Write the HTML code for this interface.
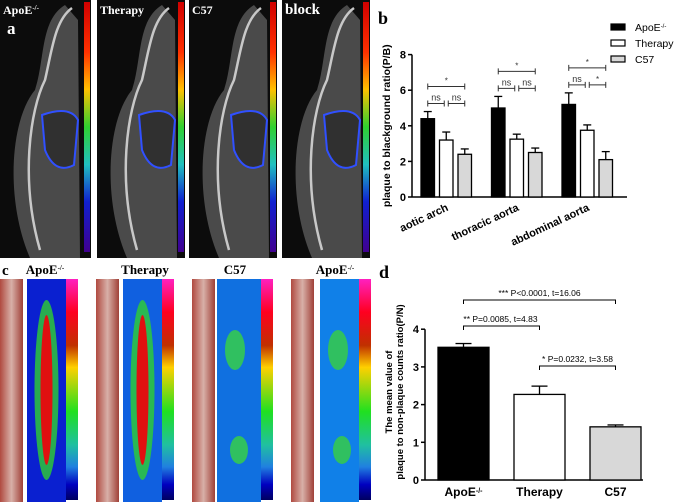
<!DOCTYPE html>
<html><head><meta charset="utf-8"><style>
body{margin:0;background:#fff;width:675px;height:502px;overflow:hidden;font-family:"Liberation Sans",Arial,sans-serif}
svg{display:block}
</style></head><body>
<svg id="fig" width="675" height="502" viewBox="0 0 675 502">
<defs>
<linearGradient id="cbar" x1="0" y1="0" x2="0" y2="1">
<stop offset="0" stop-color="#ff20c0"/><stop offset="0.15" stop-color="#ff0020"/><stop offset="0.3" stop-color="#c03000"/><stop offset="0.4" stop-color="#ffd000"/><stop offset="0.6" stop-color="#20e020"/><stop offset="0.75" stop-color="#20c0a0"/><stop offset="0.85" stop-color="#2080e0"/><stop offset="0.93" stop-color="#0000c0"/><stop offset="1" stop-color="#000060"/>
</linearGradient>
<linearGradient id="ctbar" x1="0" y1="0" x2="0" y2="1">
<stop offset="0" stop-color="#d00000"/><stop offset="0.2" stop-color="#ff3000"/><stop offset="0.35" stop-color="#ffc000"/><stop offset="0.5" stop-color="#30d030"/><stop offset="0.65" stop-color="#20c0c0"/><stop offset="0.8" stop-color="#1020d0"/><stop offset="1" stop-color="#400090"/>
</linearGradient>
<linearGradient id="tissue" x1="0" y1="0" x2="1" y2="0">
<stop offset="0" stop-color="#b04a40"/><stop offset="0.5" stop-color="#d8b0a8"/><stop offset="1" stop-color="#a04038"/>
</linearGradient>
</defs>
<g id="panelA"></g>
<g id="panelC"></g>
<g id="chartB"></g>
<g id="chartD"></g>
</svg>
<script>
// ---- Chart b data ----
const bCategories = ["aotic arch","thoracic aorta","abdominal aorta"];
const bSeriesNames = ["ApoE-/-","Therapy","C57"];
const bApoE = [4.4, 5.0, 5.2];
const bApoEErr = [0.4, 0.65, 0.65];
const bTherapy = [3.2, 3.25, 3.75];
const bTherapyErr = [0.45, 0.28, 0.3];
const bC57 = [2.4, 2.5, 2.1];
const bC57Err = [0.3, 0.25, 0.45];
const bTicks = [0,2,4,6,8];
// ---- Chart d data ----
const dCategories = ["ApoE","Therapy","C57"];
const dValues = [3.52, 2.27, 1.41];
const dErr = [0.1, 0.22, 0.05];
const dTicks = [0,1,2,3,4];

const NS="http://www.w3.org/2000/svg";
function mk(parent,tag,attrs,text){const e=document.createElementNS(NS,tag);for(const k in attrs)e.setAttribute(k,attrs[k]);if(text!==undefined)e.textContent=text;parent.appendChild(e);return e;}

// ---- Panel A (CT images) ----
const pA=document.getElementById('panelA');
const aPanels=[[0,91,"ApoE","a"],[97,88,"Therapy"],[189,88,"C57"],[282,88,"block"]];
aPanels.forEach((p,i)=>{
  const [x,w,lab]=p;
  let r=mk(pA,'rect',{x:x,y:0,width:w,height:258,fill:'#0c0c0c'});
  
  
  mk(pA,'path',{d:`M${x+30} 258 C${x+5} 200 ${x+10} 120 ${x+35} 90 C${x+45} 60 ${x+40} 20 ${x+65} 5 L${x+78} 20 L${x+80} 258 Z`,fill:'#4a4a4a'});
  mk(pA,'path',{d:`M${x+40} 250 C${x+20} 180 ${x+30} 110 ${x+45} 80 C${x+52} 50 ${x+55} 20 ${x+72} 8`,stroke:'#c8c8c8','stroke-width':2.5,fill:'none'});
  mk(pA,'path',{d:`M${x+42} 115 Q${x+70} 105 ${x+78} 120 L${x+74} 165 Q${x+55} 175 ${x+45} 150 Z`,fill:'#303030',stroke:'#3050ff','stroke-width':2});
  let cb=mk(pA,'rect',{x:x+w-7,y:2,width:6,height:250,fill:'url(#ctbar)'});
  
  
  const t=mk(pA,'text',{x:x+3,y:14,fill:'#fff','font-family':'Liberation Serif,serif','font-weight':'bold','font-size':i==3?15:12},lab);
  
  
  if(i==0){mk(t,'tspan',{'baseline-shift':'super','font-size':7},'-/-');
    const a=mk(pA,'text',{x:7,y:34,fill:'#fff','font-family':'Liberation Serif,serif','font-weight':'bold','font-size':17},'a');
    }
});

// ---- Panel C ----
const pC=document.getElementById('panelC');
let cl=mk(pC,'text',{x:2,y:275,'font-family':'Liberation Serif,serif','font-weight':'bold','font-size':15},'c');

const cCols=[[0,27,66,"ApoE",'#0a20d0',true],[96,123,162,"Therapy",'#1060e0',true],[192,217,261,"C57",'#1070e0',false],[291,320,359,"ApoE",'#1080e8',false]];
const labX=[45,145,235,335];
cCols.forEach((c,i)=>{
  const [px,hx,sx,lab,col,hot]=c;
  let ph=mk(pC,'rect',{x:px,y:279,width:23,height:223,fill:'url(#tissue)'});
  
  let hm=mk(pC,'rect',{x:hx,y:279,width:sx-hx,height:223,fill:col});
  
  if(hot){const cx=(hx+sx)/2;
    mk(pC,'ellipse',{cx:cx,cy:390,rx:12,ry:90,fill:'#30d030',opacity:0.8});
    mk(pC,'ellipse',{cx:cx,cy:390,rx:6,ry:75,fill:'#e01010'});}
  else{mk(pC,'ellipse',{cx:hx+18,cy:350,rx:10,ry:20,fill:'#30c060'});mk(pC,'ellipse',{cx:hx+22,cy:450,rx:9,ry:14,fill:'#30c060'});}
  let sb=mk(pC,'rect',{x:sx,y:279,width:12,height:221,fill:'url(#cbar)'});
  
  const t=mk(pC,'text',{x:labX[i],y:274,'text-anchor':'middle','font-family':'Liberation Serif,serif','font-weight':'bold','font-size':13},lab);
  
  if(lab=="ApoE")mk(t,'tspan',{'baseline-shift':'super','font-size':7},'-/-');
});

// ---- Chart B ----
const gB=document.getElementById('chartB');
const bx0=412, by0=197, bPx=17.8, gStart=421, gStep=70.5, bw=13.5, bGap=18.5;
const by=v=>by0-v*bPx;
let bl=mk(gB,'text',{x:378,y:24,'font-family':'Liberation Serif,serif','font-weight':'bold','font-size':18},'b');

mk(gB,'line',{x1:bx0,y1:by(8),x2:bx0,y2:by0,stroke:'#000','stroke-width':1.5});
mk(gB,'line',{x1:bx0,y1:by0,x2:627,y2:by0,stroke:'#000','stroke-width':1.5});
bTicks.forEach(t=>{mk(gB,'line',{x1:bx0-4,y1:by(t),x2:bx0,y2:by(t),stroke:'#000','stroke-width':1.5});
  const tl=mk(gB,'text',{x:bx0-6,y:by(t)+4,'text-anchor':'end','font-size':11,'font-weight':'bold'},t);
  });
let byt=mk(gB,'text',{transform:`translate(390,${by(4)}) rotate(-90)`,'text-anchor':'middle','font-size':10.5,'font-weight':'bold'},'plaque to blackground ratio(P/B)');

const bSeries=[[bApoE,bApoEErr,'#000'],[bTherapy,bTherapyErr,'#fff'],[bC57,bC57Err,'#d8d8d8']];
bCategories.forEach((cat,ci)=>{
  const gx=gStart+ci*gStep;
  bSeries.forEach((s,si)=>{
    const x=gx+si*bGap, v=s[0][ci], e=s[1][ci];
    const r=mk(gB,'rect',{x:x,y:by(v),width:bw,height:by0-by(v),fill:s[2],stroke:'#000','stroke-width':1.3});
    
    
    mk(gB,'line',{x1:x+bw/2,y1:by(v),x2:x+bw/2,y2:by(v+e),stroke:'#000','stroke-width':1.3});
    mk(gB,'line',{x1:x+bw/2-4,y1:by(v+e),x2:x+bw/2+4,y2:by(v+e),stroke:'#000','stroke-width':1.3});
  });
  const tl=mk(gB,'text',{transform:`translate(${gx+28},${by0+13}) rotate(-25)`,'text-anchor':'end','font-size':11,'font-weight':'bold'},cat);
  
  const maxV=Math.max(bApoE[ci]+bApoEErr[ci],bTherapy[ci]+bTherapyErr[ci]);
  const y1=by(maxV)-8, y2=y1-17;
  const c0=gx+bw/2,c1=gx+bGap+bw/2,c2=gx+2*bGap+bw/2;
  const labs=ci==2?['ns','*']:['ns','ns'];
  [[c0,c1-2,labs[0]],[c1+2,c2,labs[1]],[c0,c2,'*']].forEach((b,k)=>{
    const yy=k<2?y1:y2;
    mk(gB,'path',{d:`M${b[0]} ${yy-3}V${yy+3}M${b[0]} ${yy}H${b[1]}M${b[1]} ${yy-3}V${yy+3}`,stroke:'#333','stroke-width':1,fill:'none'});
    mk(gB,'text',{x:(b[0]+b[1])/2,y:yy-3,'text-anchor':'middle','font-size':b[2]=='*'?8:9,fill:'#333'},b[2]);
  });
});
bSeriesNames.forEach((n,i)=>{
  const yy=24+i*16;
  const sw=mk(gB,'rect',{x:611,y:yy,width:14,height:6,fill:bSeries[i][2],stroke:'#000','stroke-width':1.2});
  
  const t=mk(gB,'text',{x:635,y:yy+7,'font-size':10.5},n.replace('-/-',''));
  
  if(i==0)mk(t,'tspan',{'baseline-shift':'super','font-size':6},'-/-');
});

// ---- Chart D ----
const gD=document.getElementById('chartD');
const dx0=425, dy0=480, dPx=37.7, dStart=438, dStep=76, dw=51;
const dy=v=>dy0-v*dPx;
let dl=mk(gD,'text',{x:379,y:278,'font-family':'Liberation Serif,serif','font-weight':'bold','font-size':18},'d');

mk(gD,'line',{x1:dx0,y1:dy(4),x2:dx0,y2:dy0,stroke:'#000','stroke-width':1.5});
mk(gD,'line',{x1:dx0,y1:dy0,x2:643,y2:dy0,stroke:'#000','stroke-width':1.5});
dTicks.forEach(t=>{mk(gD,'line',{x1:dx0-4,y1:dy(t),x2:dx0,y2:dy(t),stroke:'#000','stroke-width':1.5});
  const tl=mk(gD,'text',{x:dx0-6,y:dy(t)+4,'text-anchor':'end','font-size':11,'font-weight':'bold'},t);
  });
let dyt=mk(gD,'text',{transform:`translate(397,392) rotate(-90)`,'text-anchor':'middle','font-size':9.5,'font-weight':'bold'});

mk(dyt,'tspan',{x:0,dy:-5},'The mean value of');mk(dyt,'tspan',{x:0,dy:11},'plaque to non-plaque counts ratio(P/N)');
const dFills=['#000','#fff','#d8d8d8'];
dCategories.forEach((c,i)=>{
  const x=dStart+i*dStep, v=dValues[i], e=dErr[i];
  const r=mk(gD,'rect',{x:x,y:dy(v),width:dw,height:dy0-dy(v),fill:dFills[i],stroke:'#000','stroke-width':1.3});
  
  mk(gD,'line',{x1:x+dw/2,y1:dy(v),x2:x+dw/2,y2:dy(v+e),stroke:'#000','stroke-width':1.3});
  mk(gD,'line',{x1:x+dw/2-8,y1:dy(v+e),x2:x+dw/2+8,y2:dy(v+e),stroke:'#000','stroke-width':1.3});
  const t=mk(gD,'text',{x:x+dw/2,y:496,'text-anchor':'middle','font-size':12,'font-weight':'bold'},c);
  
  if(c=="ApoE")mk(t,'tspan',{'baseline-shift':'super','font-size':7},'-/-');
});
const cx=i=>dStart+i*dStep+dw/2;
[[0,2,300,'*** P<0.0001, t=16.06'],[0,1,326,'** P=0.0085, t=4.83'],[1,2,366,'* P=0.0232, t=3.58']].forEach((b,k)=>{
  const a=cx(b[0]),c=cx(b[1]),y=b[2];
  const p=mk(gD,'path',{d:`M${a} ${y+4}V${y}H${c}V${y+4}`,stroke:'#000','stroke-width':1,fill:'none'});
  
  const tx=k==0?(a+c)/2:(k==1?a+37:(a+c)/2);
  const t=mk(gD,'text',{x:tx,y:y-4,'text-anchor':'middle','font-size':8.5},b[3]);
  
});
</script>
</body></html>
